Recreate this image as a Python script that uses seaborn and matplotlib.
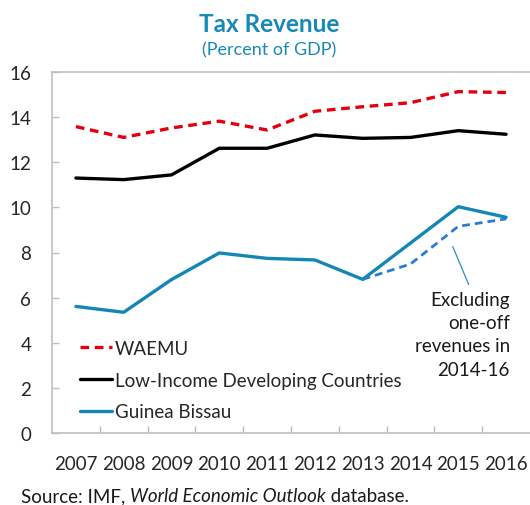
import matplotlib
matplotlib.use("Agg")
import matplotlib.pyplot as plt
import seaborn as sns
import pandas as pd
import numpy as np
from matplotlib.ticker import FixedLocator

# ---- data ----
years = [2007, 2008, 2009, 2010, 2011, 2012, 2013, 2014, 2015, 2016]
waemu = [13.58, 13.10, 13.52, 13.82, 13.43, 14.26, 14.46, 14.64, 15.13, 15.09]
lidc = [11.30, 11.23, 11.44, 12.62, 12.62, 13.21, 13.06, 13.10, 13.40, 13.24]
guinea = [5.61, 5.35, 6.80, 7.98, 7.74, 7.67, 6.81, 8.42, 10.03, 9.56]
excl_years = [2013, 2014, 2015, 2016]
guinea_excl = [6.81, 7.49, 9.16, 9.49]
yticks = [0, 2, 4, 6, 8, 10, 12, 14, 16]

labels = ["WAEMU", "Low-Income Developing Countries", "Guinea Bissau"]
annot_text = "Excluding\none-off\nrevenues in\n2014-16"

sns.set_style("white")
FONT = ["Lato", "DejaVu Sans"]
plt.rcParams["font.family"] = FONT

RED = "#E3000F"
TEAL = "#1287B5"
BLUE = "#2A7BD2"
TITLE_C = "#1689B8"
GRAY = "#BFBFBF"

W, H = 530, 506
fig = plt.figure(figsize=(W / 100, H / 100), dpi=100)
ax = fig.add_axes([52 / W, 1 - 434 / H, 478 / W, 361 / H])

df = pd.DataFrame({"year": years, "WAEMU": waemu, "LIDC": lidc, "GNB": guinea})
dfx = pd.DataFrame({"year": excl_years, "val": guinea_excl})

sns.lineplot(data=df, x="year", y="WAEMU", ax=ax, color=RED, lw=2.4,
             linestyle=(0, (2.6, 1.7)), label=labels[0])
sns.lineplot(data=df, x="year", y="LIDC", ax=ax, color="black", lw=2.4,
             label=labels[1])
sns.lineplot(data=df, x="year", y="GNB", ax=ax, color=TEAL, lw=2.4,
             label=labels[2])
sns.lineplot(data=dfx, x="year", y="val", ax=ax, color=BLUE, lw=2.0,
             linestyle=(0, (2.8, 1.8)), legend=False)

ax.set_xlim(2006.5, 2016.5)
ax.set_ylim(0, 16)
ax.set_xlabel("")
ax.set_ylabel("")

ax.set_xticks(years)
ax.set_xticklabels([str(y) for y in years])
ax.xaxis.set_minor_locator(FixedLocator([y + 0.5 for y in years[:-1]]))
ax.tick_params(axis="x", which="major", length=0, pad=16, labelsize=13.5)
ax.tick_params(axis="x", which="minor", direction="in", length=5,
               color=GRAY, width=1, bottom=True)
ax.set_yticks(yticks)
ax.tick_params(axis="y", direction="in", length=5, color=GRAY, width=1,
               pad=15, labelsize=13.5, left=True)

for s in ["top", "left", "bottom"]:
    ax.spines[s].set_visible(True)
    ax.spines[s].set_color(GRAY)
    ax.spines[s].set_linewidth(1.2)
ax.spines["right"].set_visible(False)

leg = ax.legend(loc="upper left", bbox_to_anchor=((80 - 52) / 478, (434 - 341) / 361),
                frameon=False, fontsize=13.5, handlelength=1.7, handletextpad=0.15,
                labelspacing=0.78, borderpad=0, borderaxespad=0)

# annotation
ax.annotate("", xy=(2014.86, 8.38), xytext=(2015.24, 6.47),
            arrowprops=dict(arrowstyle="-", color="#2B8CC4", lw=0.9))
ax.text(2016.08, 6.30, annot_text, ha="right", va="top", fontsize=13.5,
        linespacing=1.45, color="#1a1a1a", multialignment="right")

# titles
fig.text(269 / W, 1 - 25 / H, "Tax Revenue", ha="center", va="center",
         fontsize=17.5, fontweight="bold", color=TITLE_C)
fig.text(269 / W, 1 - 50 / H, "(Percent of GDP)", ha="center", va="center",
         fontsize=13, color=TITLE_C)

# source line with italic part
fig.canvas.draw()
r = fig.canvas.get_renderer()
ys = 1 - 497 / H
x = 21 / W
for txt, style in [("Source: IMF, ", "normal"), ("World Economic Outlook", "italic"),
                   (" database.", "normal")]:
    t = fig.text(x, ys, txt, ha="left", va="center", fontsize=13.5,
                 fontstyle=style, color="#1a1a1a")
    bb = t.get_window_extent(r)
    x = bb.x1 / W

fig.savefig("out.png", dpi=100)
